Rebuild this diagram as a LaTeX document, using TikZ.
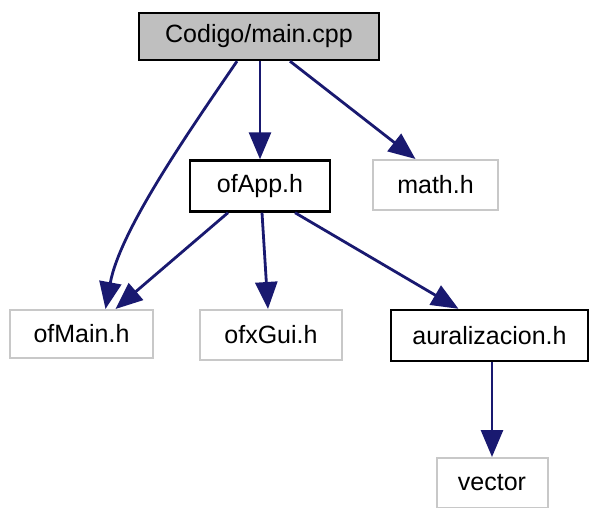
\documentclass[tikz,border=0pt]{standalone}
\usepackage{fontspec}
\setmainfont{Liberation Sans}
\usetikzlibrary{arrows.meta}
\definecolor{edgeblue}{HTML}{191970}
\definecolor{boxgray}{HTML}{BFBFBF}
\definecolor{lightframe}{HTML}{C8C8C8}
\begin{document}
\begin{tikzpicture}[x=1pt,y=-1pt,
  filebox/.style={draw=black,line width=2.4pt,fill=white,inner sep=0pt,font=\fontsize{25}{28}\selectfont},
  rootbox/.style={filebox,fill=boxgray},
  extbox/.style={filebox,draw=lightframe,line width=2pt},
  edge/.style={draw=edgeblue,line width=2.8pt,-{Triangle[length=27pt,width=22pt]}}]
\useasboundingbox[fill=white] (0,0) rectangle (590,508);
% files
\node[rootbox,minimum width=240pt,minimum height=47pt] (main) at (259,36.5) {Codigo/main.cpp};
\node[filebox,minimum width=140pt,minimum height=51pt] (ofapp) at (260,186) {ofApp.h};
\node[extbox,minimum width=125pt,minimum height=50pt] (math) at (435.5,185) {math.h};
\node[extbox,minimum width=143pt,minimum height=48pt] (ofmain) at (81.5,334) {ofMain.h};
\node[extbox,minimum width=142pt,minimum height=50pt] (ofxgui) at (271,335) {ofxGui.h};
\node[filebox,minimum width=197pt,minimum height=51pt] (aural) at (489.5,335.5) {auralizacion.h};
\node[extbox,minimum width=111pt,minimum height=50pt] (vector) at (492,483) {vector};
% includes
\draw[edge] ([xshift=-22pt]main.south) .. controls (190,130) and (120,230) .. ([xshift=24pt]ofmain.north);
\draw[edge] (main.south -| ofapp.north) -- (ofapp.north);
\draw[edge] ([xshift=31pt]main.south) -- ([xshift=-20pt]math.north);
\draw[edge] ([xshift=-32pt]ofapp.south) -- ([xshift=34pt]ofmain.north);
\draw[edge] ([xshift=2pt]ofapp.south) -- ([xshift=-3pt]ofxgui.north);
\draw[edge] ([xshift=35pt]ofapp.south) -- ([xshift=-31pt]aural.north);
\draw[edge] ([xshift=2.5pt]aural.south) -- (vector.north);
\end{tikzpicture}
\end{document}
